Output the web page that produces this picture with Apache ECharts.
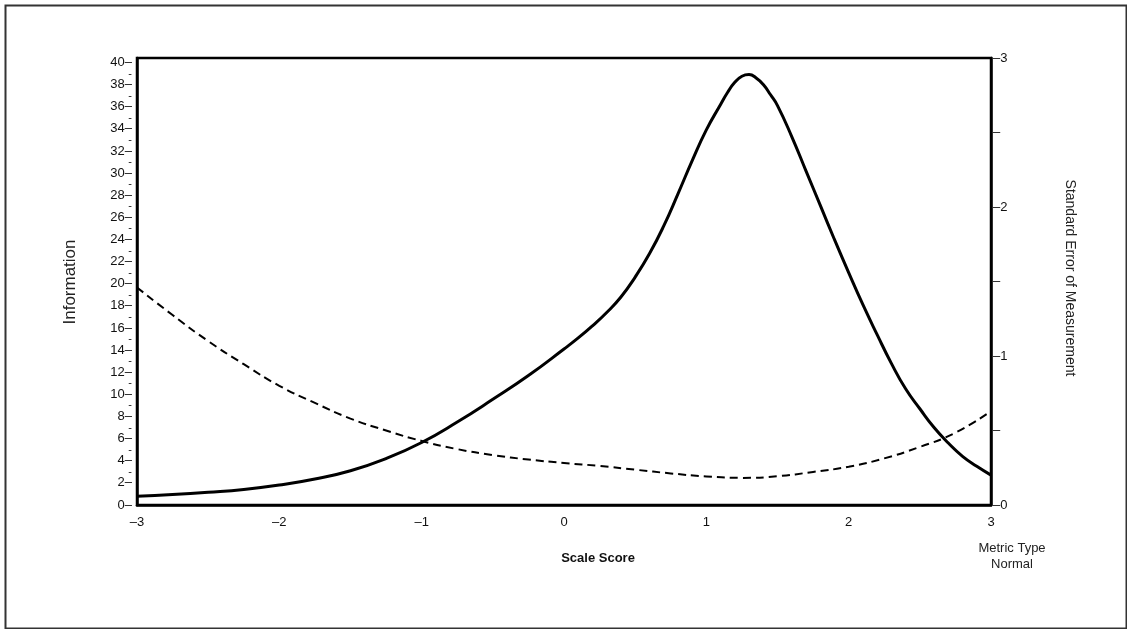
<!DOCTYPE html>
<html>
<head>
<meta charset="utf-8">
<script src="https://cdn.jsdelivr.net/npm/echarts@6/dist/echarts.min.js"></script>
<style>html,body{margin:0;padding:0;background:#fff}#c{width:1127px;height:629px}</style>
</head>
<body>
<div id="c"></div>
<script>
// Information curve (left axis)
const infoScores = [-3.0,-2.75,-2.5,-2.25,-2.0,-1.75,-1.5,-1.25,-1.0,-0.75,-0.5,-0.25,0.0,0.1,0.2,0.3,0.4,0.5,0.6,0.7,0.8,0.9,1.0,1.1,1.15,1.2,1.25,1.3,1.35,1.4,1.45,1.5,1.6,1.7,1.8,1.9,2.0,2.1,2.2,2.3,2.4,2.5,2.6,2.7,2.8,2.9,3.0];
const infoValues = [0.8,0.95,1.15,1.4,1.8,2.35,3.1,4.2,5.65,7.5,9.55,11.7,14.1,15.1,16.2,17.4,18.8,20.6,22.7,25.2,28.1,31.1,33.9,36.2,37.3,38.2,38.75,38.9,38.6,38.0,37.1,36.1,33.3,30.2,27.1,24.0,21.0,18.1,15.4,12.8,10.5,8.7,7.0,5.6,4.4,3.5,2.7];
// Standard error of measurement (right axis)
const semScores = [-3.0,-2.75,-2.5,-2.25,-2.0,-1.75,-1.5,-1.25,-1.0,-0.75,-0.5,-0.25,0.0,0.25,0.5,0.75,1.0,1.25,1.5,1.75,2.0,2.25,2.5,2.75,3.0];
const semValues = [1.46,1.275,1.10,0.945,0.80,0.685,0.58,0.50,0.43,0.375,0.335,0.305,0.282,0.262,0.237,0.212,0.192,0.182,0.193,0.222,0.257,0.313,0.39,0.485,0.63];

const xTicks = [-3,-2,-1,0,1,2,3];
const FONT = 'Liberation Sans';

const chart = echarts.init(document.getElementById('c'), null, {renderer:'canvas'});
chart.setOption({
  animation:false,
  backgroundColor:'#fff',
  grid:{left:137,right:136,top:58,bottom:124,containLabel:false,show:true,borderColor:'#000',borderWidth:2.5,backgroundColor:'transparent'},
  xAxis:{type:'value',min:-3,max:3,interval:1,
    axisLine:{show:true,onZero:false,lineStyle:{color:'#000',width:2.5}},
    axisTick:{show:false},splitLine:{show:false},
    axisLabel:{margin:11,fontFamily:FONT,fontSize:13,color:'#111',showMinLabel:true,showMaxLabel:true,
      formatter:v=> xTicks.includes(v) ? (v<0 ? '\u2013'+Math.abs(v) : String(v)) : ''}
  },
  yAxis:[
    {type:'value',min:0,max:40.4,interval:1,position:'left',
      axisLine:{show:true,onZero:false,lineStyle:{color:'#000',width:2.5}},
      axisTick:{show:false},splitLine:{show:false},
      axisLabel:{margin:5,fontFamily:FONT,fontSize:13,color:'#111',showMinLabel:true,showMaxLabel:true,hideOverlap:false,
        formatter:v=> !Number.isInteger(v) ? '' : ((v%2===0) ? v+'\u2013' : '{m|-}'),
        rich:{m:{fontFamily:FONT,fontSize:11,color:'#111'}}}
    },
    {type:'value',min:0,max:3,interval:0.5,position:'right',
      axisLine:{show:true,onZero:false,lineStyle:{color:'#000',width:2.5}},
      axisTick:{show:false},splitLine:{show:false},
      axisLabel:{margin:2,fontFamily:FONT,fontSize:13,color:'#111',showMinLabel:true,showMaxLabel:true,hideOverlap:false,
        formatter:v=> Number.isInteger(v) ? '\u2013'+v : '\u2013'}
    }
  ],
  series:[
    {type:'line',yAxisIndex:0,smooth:0.5,symbol:'none',
      lineStyle:{color:'#000',width:3},
      data:infoScores.map((x,i)=>[x,infoValues[i]])},
    {type:'line',yAxisIndex:1,smooth:0.5,symbol:'none',
      lineStyle:{color:'#000',width:2,type:[8,5]},
      data:semScores.map((x,i)=>[x,semValues[i]])}
  ],
  graphic:[
    {type:'rect',left:3,top:3,shape:{x:0,y:0,width:1121,height:623},style:{fill:null,stroke:'#333',lineWidth:2},silent:true},
    {type:'text',x:70,y:282,rotation:Math.PI/2,style:{text:'Information',font:'17px "'+FONT+'"',fill:'#222',align:'center',verticalAlign:'middle'}},
    {type:'text',x:1070,y:278,rotation:-Math.PI/2,style:{text:'Standard Error of Measurement',font:'14px "'+FONT+'"',fill:'#222',align:'center',verticalAlign:'middle'}},
    {type:'text',x:598,y:558,style:{text:'Scale Score',font:'bold 13px "'+FONT+'"',fill:'#111',align:'center',verticalAlign:'middle'}},
    {type:'text',x:1012,y:548,style:{text:'Metric Type',font:'13px "'+FONT+'"',fill:'#222',align:'center',verticalAlign:'middle'}},
    {type:'text',x:1012,y:564,style:{text:'Normal',font:'13px "'+FONT+'"',fill:'#222',align:'center',verticalAlign:'middle'}}
  ]
});
</script>
</body>
</html>
